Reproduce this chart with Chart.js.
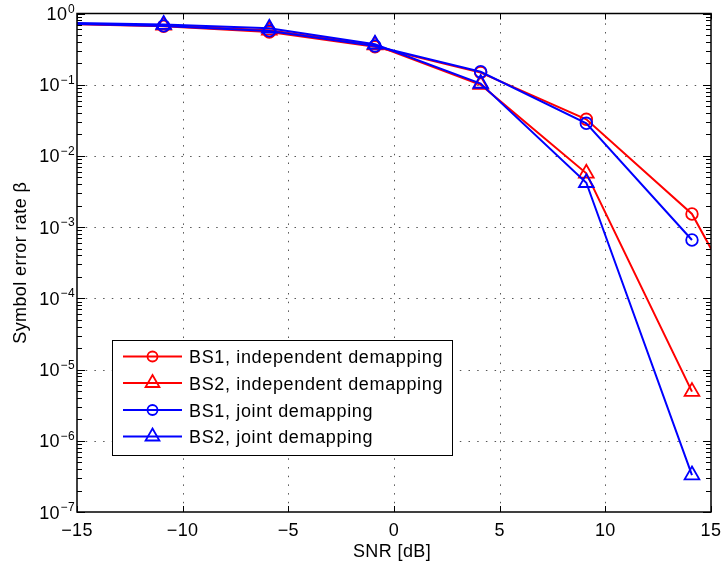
<!DOCTYPE html>
<html>
<head>
<meta charset="utf-8">
<script src="https://cdn.jsdelivr.net/npm/chart.js@4/dist/chart.umd.min.js"></script>
<style>
  html, body { margin: 0; padding: 0; background: #fff; }
  canvas { display: block; }
</style>
</head>
<body>
<canvas id="serChart" width="724" height="564"></canvas>
<script>
// SNR points (dB); first and last lie outside the visible axis range
const snr = [-15.9, -10.9, -5.9, -0.9, 4.1, 9.1, 14.1, 19.1];

const bs1Independent = [0.72, 0.66, 0.55, 0.34, 0.148, 0.0327, 0.00153, 3e-6];
const bs2Independent = [0.73, 0.68, 0.58, 0.36, 0.100, 0.0057, 4.9e-6];
const bs1Joint = [0.72, 0.67, 0.57, 0.35, 0.152, 0.0287, 6.6e-4];
const bs2Joint = [0.74, 0.70, 0.62, 0.37, 0.104, 0.0042, 3.3e-7];

const xTicks = [-15, -10, -5, 0, 5, 10, 15];
const yExponents = [0, -1, -2, -3, -4, -5, -6, -7];

const seriesNames = [
    "BS1, independent demapping",
    "BS2, independent demapping",
    "BS1, joint demapping",
    "BS2, joint demapping"
];

const RED = "#ff0000";
const BLUE = "#0000ff";
const FONT = "'Liberation Sans', Arial, Helvetica, sans-serif";

const toPoints = (values) => values.map((v, i) => ({ x: snr[i], y: v }));

const makeSeries = (label, values, color, style, order) => ({
    label: label,
    data: toPoints(values),
    showLine: true,
    borderColor: color,
    borderWidth: 2,
    pointStyle: style,
    pointRadius: style === "triangle" ? 8.5 : 5.8,
    pointBorderWidth: 1.8,
    pointBorderColor: color,
    pointBackgroundColor: "rgba(0,0,0,0)",
    clip: 0,
    order: order
});

const minus = (n) => String(n).replace("-", "\u2212");

const matlabAxes = {
    id: "matlabAxes",
    beforeDatasetsDraw(chart) {
        const { ctx, chartArea: a, scales: { x, y } } = chart;
        ctx.save();
        ctx.strokeStyle = "#555";
        ctx.lineWidth = 1;
        ctx.setLineDash([1.5, 7.2]);
        xTicks.slice(1, -1).forEach((t) => {
            const px = Math.round(x.getPixelForValue(t)) + 0.5;
            ctx.beginPath();
            ctx.moveTo(px, a.bottom);
            ctx.lineTo(px, a.top);
            ctx.stroke();
        });
        yExponents.slice(1, -1).forEach((e) => {
            const py = Math.round(y.getPixelForValue(Math.pow(10, e))) + 0.5;
            ctx.beginPath();
            ctx.moveTo(a.left, py);
            ctx.lineTo(a.right, py);
            ctx.stroke();
        });
        ctx.restore();
    },
    afterDatasetsDraw(chart) {
        const { ctx, chartArea: a, scales: { x, y } } = chart;
        ctx.save();
        ctx.strokeStyle = "#000";
        ctx.lineWidth = 1.5;
        ctx.strokeRect(a.left, a.top, a.right - a.left, a.bottom - a.top);

        // ticks, all pointing inward
        ctx.lineWidth = 1;
        ctx.beginPath();
        xTicks.forEach((t) => {
            const px = Math.round(x.getPixelForValue(t)) + 0.5;
            ctx.moveTo(px, a.bottom); ctx.lineTo(px, a.bottom - 6);
            ctx.moveTo(px, a.top); ctx.lineTo(px, a.top + 6);
        });
        yExponents.forEach((e) => {
            const py = Math.round(y.getPixelForValue(Math.pow(10, e))) + 0.5;
            ctx.moveTo(a.left, py); ctx.lineTo(a.left + 8, py);
            ctx.moveTo(a.right, py); ctx.lineTo(a.right - 8, py);
            if (e > -7) {
                for (let k = 2; k <= 9; k++) {
                    const pm = Math.round(y.getPixelForValue(k * Math.pow(10, e - 1))) + 0.5;
                    ctx.moveTo(a.left, pm); ctx.lineTo(a.left + 5, pm);
                    ctx.moveTo(a.right, pm); ctx.lineTo(a.right - 5, pm);
                }
            }
        });
        ctx.stroke();

        // tick labels
        ctx.fillStyle = "#000";
        ctx.letterSpacing = "0.4px";
        ctx.font = "18px " + FONT;
        ctx.textAlign = "center";
        ctx.textBaseline = "alphabetic";
        xTicks.forEach((t) => {
            ctx.fillText(minus(t), x.getPixelForValue(t), 536);
        });

        yExponents.forEach((e) => {
            const py = y.getPixelForValue(Math.pow(10, e));
            const expText = minus(e);
            ctx.font = "12px " + FONT;
            ctx.textAlign = "right";
            const expW = ctx.measureText(expText).width;
            ctx.fillText(expText, 75, py - 1);
            ctx.font = "18px " + FONT;
            ctx.fillText("10", 75 - expW - 0.5, py + 6.5);
        });

        // axis titles
        ctx.font = "18px " + FONT;
        ctx.textAlign = "center";
        ctx.fillText("SNR [dB]", 392, 557);
        ctx.save();
        ctx.translate(26, (a.top + a.bottom) / 2);
        ctx.rotate(-Math.PI / 2);
        ctx.fillText("Symbol error rate \u03b2", 0, 0);
        ctx.restore();

        // legend box
        const box = { left: 112, top: 340, right: 452, bottom: 455 };
        ctx.fillStyle = "#fff";
        ctx.fillRect(box.left, box.top, box.right - box.left, box.bottom - box.top);
        ctx.strokeStyle = "#000";
        ctx.lineWidth = 1;
        ctx.strokeRect(box.left + 0.5, box.top + 0.5, box.right - box.left, box.bottom - box.top);

        const rows = [356.5, 383, 410, 436.5];
        chart.data.datasets.forEach((ds, i) => {
            const ry = rows[i];
            ctx.strokeStyle = ds.borderColor;
            ctx.lineWidth = 2;
            ctx.beginPath();
            ctx.moveTo(123, ry);
            ctx.lineTo(182, ry);
            ctx.stroke();
            ctx.fillStyle = "rgba(0,0,0,0)";
            ctx.lineWidth = 1.8;
            Chart.helpers.drawPoint(ctx, {
                pointStyle: ds.pointStyle,
                radius: ds.pointStyle === "triangle" ? 8 : 5,
                borderWidth: 1.8,
                rotation: 0
            }, 152.5, ry);
            ctx.fillStyle = "#000";
            ctx.font = "18px " + FONT;
            ctx.letterSpacing = "0.65px";
            ctx.textAlign = "left";
            ctx.fillText(ds.label, 189, ry + 6.5);
        });
        ctx.restore();
    }
};

new Chart(document.getElementById("serChart"), {
    type: "scatter",
    data: {
        datasets: [
            makeSeries(seriesNames[0], bs1Independent, RED, "circle", 3),
            makeSeries(seriesNames[1], bs2Independent, RED, "triangle", 2),
            makeSeries(seriesNames[2], bs1Joint, BLUE, "circle", 1),
            makeSeries(seriesNames[3], bs2Joint, BLUE, "triangle", 0)
        ]
    },
    options: {
        responsive: false,
        animation: false,
        devicePixelRatio: 1,
        layout: { padding: { left: 77, top: 13.5, right: 13, bottom: 52 } },
        plugins: { legend: { display: false }, tooltip: { enabled: false } },
        scales: {
            x: { type: "linear", min: -15, max: 15, display: false },
            y: { type: "logarithmic", min: 1e-7, max: 1, display: false }
        }
    },
    plugins: [matlabAxes]
});
</script>
</body>
</html>
